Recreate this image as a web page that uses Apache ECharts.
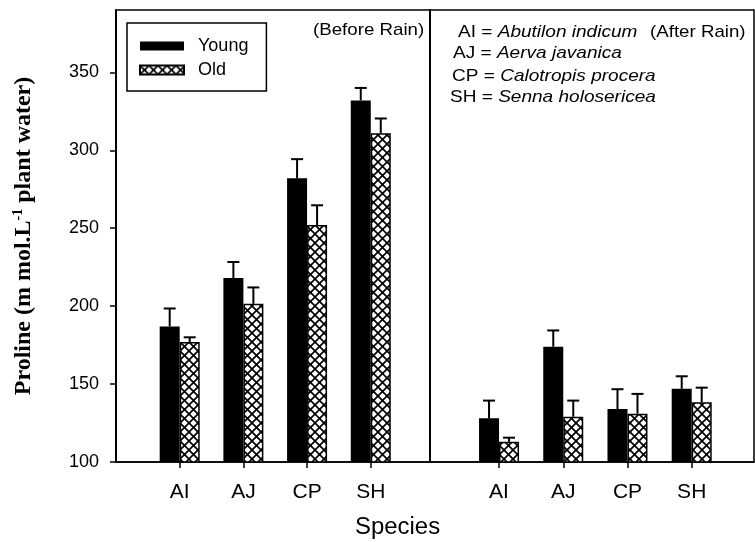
<!DOCTYPE html>
<html><head><meta charset="utf-8">
<script src="https://cdn.jsdelivr.net/npm/echarts@6/dist/echarts.min.js"></script>
<style>html,body{margin:0;padding:0;background:#fff}#c{width:755px;height:542px}</style>
</head><body><div id="c"></div>
<script>
// ---- data ----
const categories = ['AI', 'AJ', 'CP', 'SH'];
const positions = [1, 2, 3, 4];
const yTicks = [100, 150, 200, 250, 300, 350];
const youngBefore = [187, 218, 282, 332];
const youngBeforeErr = [11.5, 10.3, 12.3, 8];
const oldBefore = [177, 201.5, 252, 311];
const oldBeforeErr = [3, 10.5, 12.7, 9.4];
const youngAfter = [128, 174, 134, 147];
const youngAfterErr = [11.4, 10.4, 12.7, 8];
const oldAfter = [113, 129, 131, 138.3];
const oldAfterErr = [2.6, 10.4, 12.7, 9.4];

// ---- hatch pattern ----
function makeHatch() {
  const s = 9;
  const c = document.createElement('canvas');
  c.width = s; c.height = s;
  const g = c.getContext('2d');
  g.fillStyle = '#fff'; g.fillRect(0, 0, s, s);
  g.strokeStyle = '#000'; g.lineWidth = 1.7;
  g.beginPath();
  g.moveTo(-1, -1); g.lineTo(s + 1, s + 1);
  g.moveTo(s + 1, -1); g.lineTo(-1, s + 1);
  g.stroke();
  return c;
}
const hatch = { image: makeHatch(), repeat: 'repeat' };

const FONT = '"Liberation Sans", Arial, sans-serif';
const chart = echarts.init(document.getElementById('c'), null, { renderer: 'canvas' });

function xAxisCfg(gi, min, max) {
  return {
    type: 'value', gridIndex: gi, min: min, max: max, interval: 1,
    splitLine: { show: false },
    axisLine: { show: true, onZero: false, lineStyle: { color: '#000', width: 1.5 } },
    axisTick: { show: true, customValues: positions, length: 6, lineStyle: { color: '#000', width: 1.5 } },
    axisLabel: {
      customValues: positions, color: '#000', fontSize: 21, fontFamily: FONT, margin: 20,
      formatter: function (v) { const i = positions.indexOf(v); return i >= 0 ? categories[i] : ''; }
    }
  };
}
function pairs(vals) { return vals.map((v, i) => [positions[i], v]); }
function errData(vals, errs) { return vals.map((v, i) => [positions[i], v, v + errs[i]]); }
function errSeries(gi, vals, errs, off) {
  return {
    type: 'custom', xAxisIndex: gi, yAxisIndex: gi, z: 5, silent: true,
    data: errData(vals, errs),
    renderItem: function (params, api) {
      const x = api.value(0), y = api.value(1), t = api.value(2);
      const p0 = api.coord([x, y]), p1 = api.coord([x, t]);
      const cx = p0[0] + off;
      const st = { stroke: '#000', lineWidth: 2 };
      return { type: 'group', children: [
        { type: 'line', shape: { x1: cx, y1: p0[1], x2: cx, y2: p1[1] }, style: st },
        { type: 'line', shape: { x1: cx - 6, y1: p1[1], x2: cx + 6, y2: p1[1] }, style: st }
      ] };
    }
  };
}
function barSeries(name, gi, vals, isOld) {
  return {
    name: name, type: 'bar', xAxisIndex: gi, yAxisIndex: gi,
    barWidth: 20, barGap: '0%',
    data: pairs(vals),
    itemStyle: isOld ? { color: hatch, borderColor: '#000', borderWidth: 1.5 } : { color: '#000' }
  };
}

const option = {
  backgroundColor: '#fff',
  animation: false,
  legend: {
    orient: 'vertical', left: 127, top: 23,
    data: ['Young', 'Old'], icon: 'rect',
    itemWidth: 44, itemHeight: 9, itemGap: 6,
    padding: [14, 18, 12, 12],
    borderColor: '#000', borderWidth: 1.5,
    textStyle: { fontSize: 18, fontFamily: FONT, color: '#000', lineHeight: 18, padding: [0, 0, 0, 9] }
  },
  grid: [
    { left: 116, top: 10, width: 314, height: 452, show: true, borderColor: '#000', borderWidth: 1.5 },
    { left: 430, top: 10, width: 324, height: 452, show: true, borderColor: '#000', borderWidth: 1.5 }
  ],
  xAxis: [xAxisCfg(0, 0, 4.93), xAxisCfg(1, -0.075, 4.97)],
  yAxis: [
    {
      type: 'value', gridIndex: 0, min: 100, max: 390, interval: 50,
      splitLine: { show: false },
      axisLine: { show: true, onZero: false, lineStyle: { color: '#000', width: 2 } },
      axisTick: { show: true, customValues: yTicks, length: 6, lineStyle: { color: '#000', width: 1.5 } },
      axisLabel: {
        customValues: yTicks, color: '#000', fontSize: 18, fontFamily: FONT, margin: 17,
        formatter: function (v) { return yTicks.indexOf(v) >= 0 ? String(v) : ''; }
      },
      name: 'Proline (m mol.L{sup|-1} plant water)',
      nameLocation: 'middle', nameRotate: 90, nameGap: 79,
      nameTextStyle: {
        fontFamily: '"Liberation Serif", "Times New Roman", serif', fontWeight: 'bold', fontSize: 24, color: '#000',
        rich: { sup: { fontFamily: '"Liberation Serif", serif', fontWeight: 'bold', fontSize: 14, color: '#000', padding: [0, 0, 12, 0] } }
      }
    },
    {
      type: 'value', gridIndex: 1, min: 100, max: 390, interval: 50,
      splitLine: { show: false },
      axisLine: { show: true, onZero: false, lineStyle: { color: '#000', width: 2 } },
      axisTick: { show: false }, axisLabel: { show: false }
    }
  ],
  graphic: [
    { type: 'text', x: 313, y: 30, scaleX: 1.1, style: { text: '(Before Rain)', fontSize: 17, fontFamily: FONT, fill: '#000', verticalAlign: 'middle' } },
    { type: 'text', x: 650, y: 32, scaleX: 1.1, style: { text: '(After Rain)', fontSize: 17, fontFamily: FONT, fill: '#000', verticalAlign: 'middle' } },
    { type: 'text', x: 458, y: 32, scaleX: 1.12, style: { text: '{a|AI = }{b|Abutilon indicum}', fontSize: 17, fontFamily: FONT, fill: '#000', verticalAlign: 'middle', rich: { a: { fontSize: 17, fontFamily: FONT }, b: { fontSize: 17, fontFamily: FONT, fontStyle: 'italic' } } } },
    { type: 'text', x: 453, y: 53, scaleX: 1.12, style: { text: '{a|AJ = }{b|Aerva javanica}', fontSize: 17, fontFamily: FONT, fill: '#000', verticalAlign: 'middle', rich: { a: { fontSize: 17, fontFamily: FONT }, b: { fontSize: 17, fontFamily: FONT, fontStyle: 'italic' } } } },
    { type: 'text', x: 452, y: 76, scaleX: 1.12, style: { text: '{a|CP = }{b|Calotropis procera}', fontSize: 17, fontFamily: FONT, fill: '#000', verticalAlign: 'middle', rich: { a: { fontSize: 17, fontFamily: FONT }, b: { fontSize: 17, fontFamily: FONT, fontStyle: 'italic' } } } },
    { type: 'text', x: 450, y: 97, scaleX: 1.12, style: { text: '{a|SH = }{b|Senna holosericea}', fontSize: 17, fontFamily: FONT, fill: '#000', verticalAlign: 'middle', rich: { a: { fontSize: 17, fontFamily: FONT }, b: { fontSize: 17, fontFamily: FONT, fontStyle: 'italic' } } } },
    { type: 'text', x: 355, y: 528, scaleX: 1.04, style: { text: 'Species', fontSize: 23, fontFamily: FONT, fill: '#000', verticalAlign: 'middle' } }
  ],
  series: [
    barSeries('Young', 0, youngBefore, false),
    barSeries('Old', 0, oldBefore, true),
    barSeries('Young', 1, youngAfter, false),
    barSeries('Old', 1, oldAfter, true),
    errSeries(0, youngBefore, youngBeforeErr, -10),
    errSeries(0, oldBefore, oldBeforeErr, 10),
    errSeries(1, youngAfter, youngAfterErr, -10),
    errSeries(1, oldAfter, oldAfterErr, 10)
  ]
};
chart.setOption(option);
</script>
</body></html>
